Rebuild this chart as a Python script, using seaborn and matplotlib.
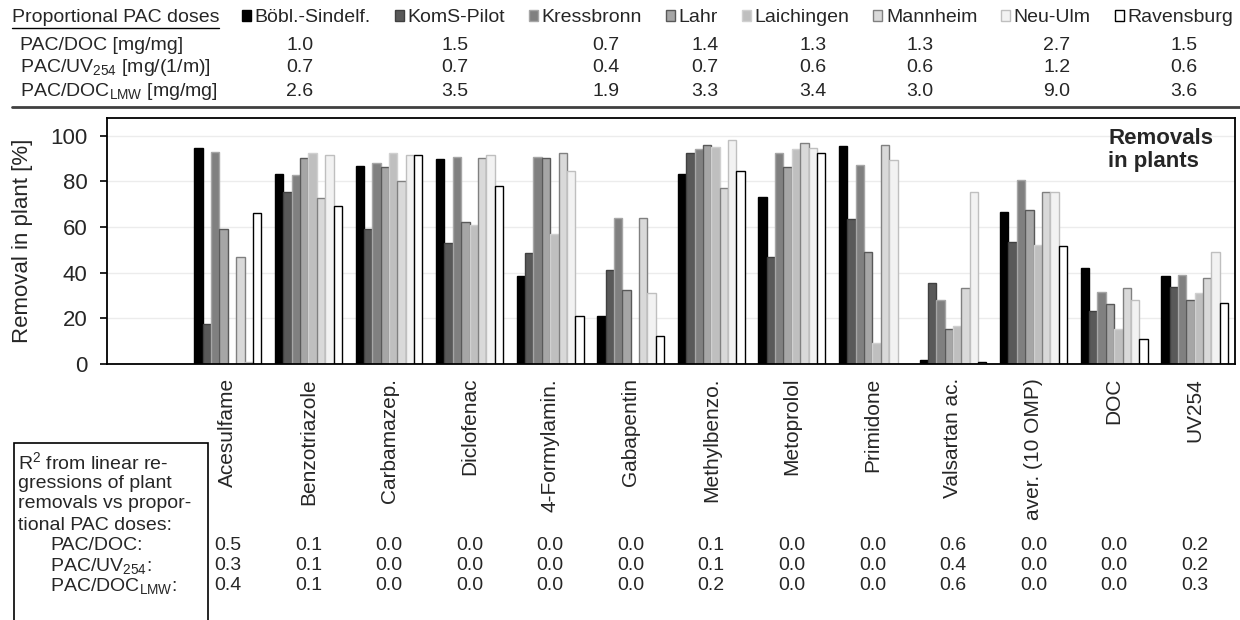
import matplotlib
matplotlib.use("Agg")
import matplotlib.pyplot as plt
import matplotlib.transforms as mtransforms
from matplotlib.lines import Line2D
from matplotlib.patches import Rectangle
import numpy as np
import pandas as pd
import seaborn as sns

W, H = 1240, 620
nan = np.nan

PLANTS = ["Böbl.-Sindelf.", "KomS-Pilot", "Kressbronn", "Lahr",
          "Laichingen", "Mannheim", "Neu-Ulm", "Ravensburg"]
FACE = ["#000000", "#595959", "#808080", "#a6a6a6",
        "#bfbfbf", "#d9d9d9", "#f2f2f2", "#ffffff"]
EDGE = ["#000000", "#404040", "#a6a6a6", "#595959",
        "#d0d0d0", "#808080", "#bfbfbf", "#000000"]

COMPOUNDS = ["Acesulfame", "Benzotriazole", "Carbamazep.", "Diclofenac",
             "4-Formylamin.", "Gabapentin", "Methylbenzo.", "Metoprolol",
             "Primidone", "Valsartan ac.", "aver. (10 OMP)", "DOC", "UV254"]

# removal in plant [%] per plant, in COMPOUNDS order
bobl = [94.6, 83.0, 86.7, 89.6, 38.4, 21.0, 83.0, 72.9, 95.3, 1.7, 66.5, 42.0, 38.6]
koms = [17.4, 75.1, 59.2, 52.8, 48.4, 41.2, 92.4, 46.9, 63.7, 35.4, 53.6, 23.4, 33.9]
kress = [92.8, 82.6, 88.2, 90.8, 90.8, 64.0, 94.3, 92.2, 87.1, 28.0, 80.7, 31.7, 39.0]
lahr = [59.2, 90.0, 86.4, 62.0, 90.0, 32.5, 96.0, 86.4, 49.1, 15.2, 67.3, 26.2, 28.0]
laich = [nan, 92.2, 92.2, 60.7, 57.0, nan, 95.0, 94.3, 9.4, 16.7, 52.2, 15.2, 31.1]
mannh = [46.8, 72.7, 80.1, 90.0, 92.2, 64.0, 77.2, 96.6, 96.0, 33.2, 75.1, 33.2, 37.6]
neuulm = [0.7, 91.7, 91.7, 91.5, 84.4, 31.0, 97.9, 94.4, 89.5, 75.1, 75.1, 28.0, 49.0]
rav = [66.2, 69.2, 91.7, 77.8, 20.8, 12.1, 84.4, 92.4, nan, 1.0, 51.5, 10.8, 26.8]

# proportional PAC doses per plant
dose_doc = [1.0, 1.5, 0.7, 1.4, 1.3, 1.3, 2.7, 1.5]
dose_uv = [0.7, 0.7, 0.4, 0.7, 0.6, 0.6, 1.2, 0.6]
dose_lmw = [2.6, 3.5, 1.9, 3.3, 3.4, 3.0, 9.0, 3.6]

# R2 of removals vs doses per compound
r2_doc = [0.5, 0.1, 0.0, 0.0, 0.0, 0.0, 0.1, 0.0, 0.0, 0.6, 0.0, 0.0, 0.2]
r2_uv = [0.3, 0.1, 0.0, 0.0, 0.0, 0.0, 0.1, 0.0, 0.0, 0.4, 0.0, 0.0, 0.2]
r2_lmw = [0.4, 0.1, 0.0, 0.0, 0.0, 0.0, 0.2, 0.0, 0.0, 0.6, 0.0, 0.0, 0.3]

# x pixel centres of the dose value columns
DOSE_X = [300, 455, 606, 705, 813, 920, 1057, 1184]


def fx(px):
    return px / W


def fy(py):
    return 1 - py / H


sns.set_theme(style="white")
plt.rcParams["font.family"] = ["Liberation Sans", "DejaVu Sans"]
plt.rcParams["mathtext.fontset"] = "custom"
plt.rcParams["mathtext.rm"] = "Liberation Sans"
plt.rcParams["mathtext.default"] = "regular"

series = [bobl, koms, kress, lahr, laich, mannh, neuulm, rav]
rows = []
for plant, vals in zip(PLANTS, series):
    for comp, v in zip(COMPOUNDS, vals):
        rows.append({"compound": comp, "plant": plant, "removal": v})
df = pd.DataFrame(rows)

fig = plt.figure(figsize=(W / 100, H / 100), dpi=100)
ax = fig.add_axes([fx(107), fy(364), fx(1235) - fx(107), (364 - 118) / H])

order = [""] + COMPOUNDS
sns.barplot(data=df, x="compound", y="removal", hue="plant", order=order,
            hue_order=PLANTS, palette=FACE, saturation=1, width=0.83,
            errorbar=None, legend=False, ax=ax)

for cont, ec in zip(ax.containers, EDGE):
    for bar in cont:
        bar.set_edgecolor(ec)
        bar.set_linewidth(1.0)

ax.set_xlim(-0.5, 13.5)
ax.set_ylim(0, 107.7)
ax.set_yticks([0, 20, 40, 60, 80, 100])
ax.yaxis.grid(True, color="#ececec", lw=1)
ax.set_axisbelow(True)
ax.set_xticks(range(len(order)))
ax.set_xticklabels(order, rotation=90, fontsize=15)
ax.set_xticks(np.arange(0.5, 13.5, 1), minor=True)
ax.tick_params(axis="x", which="major", length=0, pad=10)
ax.tick_params(axis="x", which="minor", length=5, width=1.2, direction="out", color="black")
ax.tick_params(axis="y", length=5, width=1.2, direction="out", pad=9, labelsize=16, color="black")
ax.tick_params(left=True, bottom=True)
ax.set_xlabel("")
ax.set_ylabel("Removal in plant [%]", fontsize=16)
ax.yaxis.set_label_coords((33 - 107) / 1128, 0.5)
for s in ax.spines.values():
    s.set_visible(True)
    s.set_color("black")
    s.set_linewidth(1.3)

fig.text(fx(1108), fy(128), "Removals\nin plants", fontsize=16, fontweight="bold",
         ha="left", va="top", linespacing=1.15)

# header: proportional PAC doses
title = fig.text(fx(12), fy(18), "Proportional PAC doses", fontsize=14, ha="left", va="center")
leg = fig.legend(ax.containers, PLANTS, loc="center left",
                 bbox_to_anchor=(fx(242), fy(18)), ncol=8, frameon=False,
                 fontsize=14, handlelength=0.45, handleheight=0.45,
                 handletextpad=0.2, columnspacing=1.23, borderpad=0, borderaxespad=0)

row_labels = ["PAC/DOC [mg/mg]", "PAC/UV$_{254}$ [mg/(1/m)]", "PAC/DOC$_{LMW}$ [mg/mg]"]
for label, vals, py in zip(row_labels, [dose_doc, dose_uv, dose_lmw], [45, 68, 91]):
    fig.text(fx(20), fy(py), label, fontsize=14, ha="left", va="center")
    for px, v in zip(DOSE_X, vals):
        fig.text(fx(px), fy(py), f"{v:.1f}", fontsize=14, ha="center", va="center")

fig.add_artist(Line2D([fx(12), 1.0], [fy(107), fy(107)], color="#404040", lw=2,
                      transform=fig.transFigure))

# R2 table below the chart
fig.add_artist(Rectangle((fx(14), fy(650)), fx(208) - fx(14), (650 - 443) / H,
                         transform=fig.transFigure, fill=False, lw=1.2,
                         edgecolor="black", clip_on=False))
para = ["R$^2$ from linear re-", "gressions of plant", "removals vs propor-", "tional PAC doses:"]
for line, py in zip(para, [462, 483, 504, 525]):
    fig.text(fx(18), fy(py), line, fontsize=14, ha="left", va="center")

blend = mtransforms.blended_transform_factory(ax.transData, fig.transFigure)
r2_labels = ["PAC/DOC:", "PAC/UV$_{254}$:", "PAC/DOC$_{LMW}$:"]
for label, vals, py in zip(r2_labels, [r2_doc, r2_uv, r2_lmw], [546, 566, 586]):
    fig.text(fx(50), fy(py), label, fontsize=14, ha="left", va="center")
    for i, v in enumerate(vals):
        fig.text(i + 1, fy(py), f"{v:.1f}", fontsize=14, ha="center", va="center",
                 transform=blend)

fig.canvas.draw()
bb = title.get_window_extent()
fig.add_artist(Line2D([bb.x0 / W, bb.x1 / W], [(bb.y0 - 1) / H, (bb.y0 - 1) / H],
                      color="black", lw=1, transform=fig.transFigure))

fig.savefig("out.png", dpi=100)
